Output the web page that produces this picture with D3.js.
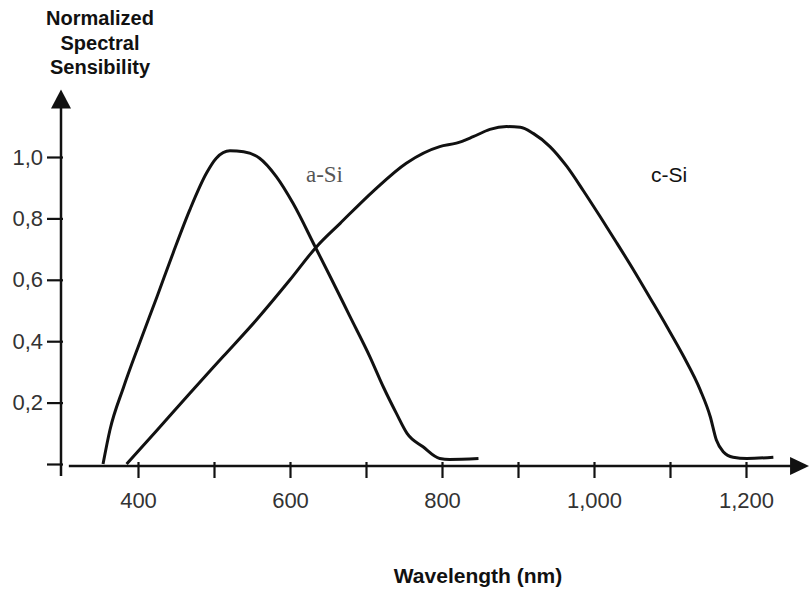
<!DOCTYPE html>
<html>
<head>
<meta charset="utf-8">
<script src="https://cdn.jsdelivr.net/npm/d3@7"></script>
<style>
  body { margin: 0; background: #fff; }
  svg { display: block; }
</style>
</head>
<body>
<svg id="chart" width="809" height="596"></svg>
<script>
// wavelength (nm) and normalized sensibility
var aSiWavelength = [354, 363, 381, 403, 425, 446, 468, 490, 503, 521, 539, 560, 582, 604, 633, 653, 679, 705, 723, 740, 754, 775, 797, 810, 848];
var aSiValue = [0, 0.11, 0.25, 0.40, 0.545, 0.686, 0.827, 0.947, 0.996, 1.02, 1.017, 0.996, 0.936, 0.849, 0.708, 0.61, 0.48, 0.35, 0.25, 0.165, 0.10, 0.056, 0.018, 0.015, 0.018];

var cSiWavelength = [385, 425, 468, 512, 556, 600, 635, 666, 710, 753, 797, 819, 841, 863, 885, 903, 920, 942, 964, 986, 1008, 1030, 1052, 1074, 1096, 1118, 1140, 1153, 1161, 1170, 1183, 1201, 1236];
var cSiValue = [0, 0.11, 0.23, 0.35, 0.47, 0.60, 0.708, 0.784, 0.89, 0.98, 1.034, 1.045, 1.066, 1.09, 1.099, 1.097, 1.077, 1.034, 0.97, 0.89, 0.806, 0.72, 0.632, 0.54, 0.447, 0.35, 0.24, 0.154, 0.078, 0.04, 0.022, 0.018, 0.022];

var xTicks = [400, 500, 600, 700, 800, 900, 1000, 1100, 1200];
var xTickLabels = {400: "400", 600: "600", 800: "800", 1000: "1,000", 1200: "1,200"};
var yTicks = [0, 0.2, 0.4, 0.6, 0.8, 1.0];
var yTickLabels = ["", "0,2", "0,4", "0,6", "0,8", "1,0"];

var seriesLabels = [
  { text: "a-Si", nm: 621, v: 0.92, font: "'Liberation Serif', serif", color: "#555", size: 23 },
  { text: "c-Si", nm: 1075, v: 0.92, font: "'Liberation Sans', Arial, sans-serif", color: "#111", size: 21 }
];

var svg = d3.select("#chart");

var x = d3.scaleLinear().domain([400, 1200]).range([138, 746]);
var y = d3.scaleLinear().domain([0, 1]).range([464, 157]);

// axis lines with arrow heads
var xAxisY = 466, yAxisX = 61;
var xStart = x(309), xEnd = x(1283);
var yBottom = 476, yTop = y(1.22);

svg.append("line")
  .attr("x1", xStart).attr("x2", xEnd - 10)
  .attr("y1", xAxisY).attr("y2", xAxisY)
  .attr("stroke", "#111").attr("stroke-width", 2.5);
svg.append("path")
  .attr("d", "M" + xEnd + "," + xAxisY + "L" + (xEnd - 19) + "," + (xAxisY - 9) + "L" + (xEnd - 19) + "," + (xAxisY + 9) + "Z")
  .attr("fill", "#111");

svg.append("line")
  .attr("x1", yAxisX).attr("x2", yAxisX)
  .attr("y1", yBottom).attr("y2", yTop + 10)
  .attr("stroke", "#111").attr("stroke-width", 2.5);
svg.append("path")
  .attr("d", "M" + yAxisX + "," + yTop + "L" + (yAxisX - 10) + "," + (yTop + 19) + "L" + (yAxisX + 10) + "," + (yTop + 19) + "Z")
  .attr("fill", "#111");

// x ticks
var xAxis = svg.append("g")
  .attr("transform", "translate(0,462)")
  .call(d3.axisBottom(x)
    .tickValues(xTicks)
    .tickSize(16)
    .tickPadding(14)
    .tickFormat(function(d) { return xTickLabels[d] || ""; }));
xAxis.select(".domain").remove();
xAxis.selectAll(".tick line").attr("stroke", "#111").attr("stroke-width", 2.2);
xAxis.selectAll(".tick text")
  .attr("fill", "#333")
  .style("font-family", "'Liberation Sans', Arial, sans-serif")
  .style("font-size", "22px");

// y ticks
var yAxis = svg.append("g")
  .attr("transform", "translate(63,0)")
  .call(d3.axisLeft(y)
    .tickValues(yTicks)
    .tickSize(16)
    .tickPadding(4)
    .tickFormat(function(d, i) { return yTickLabels[i]; }));
yAxis.select(".domain").remove();
yAxis.selectAll(".tick line").attr("stroke", "#111").attr("stroke-width", 2.2);
yAxis.selectAll(".tick text")
  .attr("fill", "#333")
  .style("font-family", "'Liberation Sans', Arial, sans-serif")
  .style("font-size", "22px");

// curves
var line = d3.line()
  .x(function(d) { return x(d[0]); })
  .y(function(d) { return y(d[1]); })
  .curve(d3.curveMonotoneX);

[[aSiWavelength, aSiValue], [cSiWavelength, cSiValue]].forEach(function(s) {
  svg.append("path")
    .datum(d3.zip(s[0], s[1]))
    .attr("d", line)
    .attr("fill", "none")
    .attr("stroke", "#111")
    .attr("stroke-width", 3)
    .attr("stroke-linejoin", "round");
});

// curve labels
svg.selectAll(".series-label")
  .data(seriesLabels)
  .enter().append("text")
  .attr("class", "series-label")
  .attr("x", function(d) { return x(d.nm); })
  .attr("y", function(d) { return y(d.v); })
  .attr("fill", function(d) { return d.color; })
  .style("font-family", function(d) { return d.font; })
  .style("font-size", function(d) { return d.size + "px"; })
  .text(function(d) { return d.text; });

// axis titles
var title = svg.append("text")
  .attr("text-anchor", "middle")
  .style("font-family", "'Liberation Sans', Arial, sans-serif")
  .style("font-weight", "bold")
  .style("font-size", "20px")
  .attr("fill", "#111");
["Normalized", "Spectral", "Sensibility"].forEach(function(t, i) {
  title.append("tspan").attr("x", 100).attr("y", 25 + i * 24.5).text(t);
});

svg.append("text")
  .attr("x", 478).attr("y", 583)
  .attr("text-anchor", "middle")
  .style("font-family", "'Liberation Sans', Arial, sans-serif")
  .style("font-weight", "bold")
  .style("font-size", "21px")
  .attr("fill", "#111")
  .text("Wavelength (nm)");
</script>
</body>
</html>
